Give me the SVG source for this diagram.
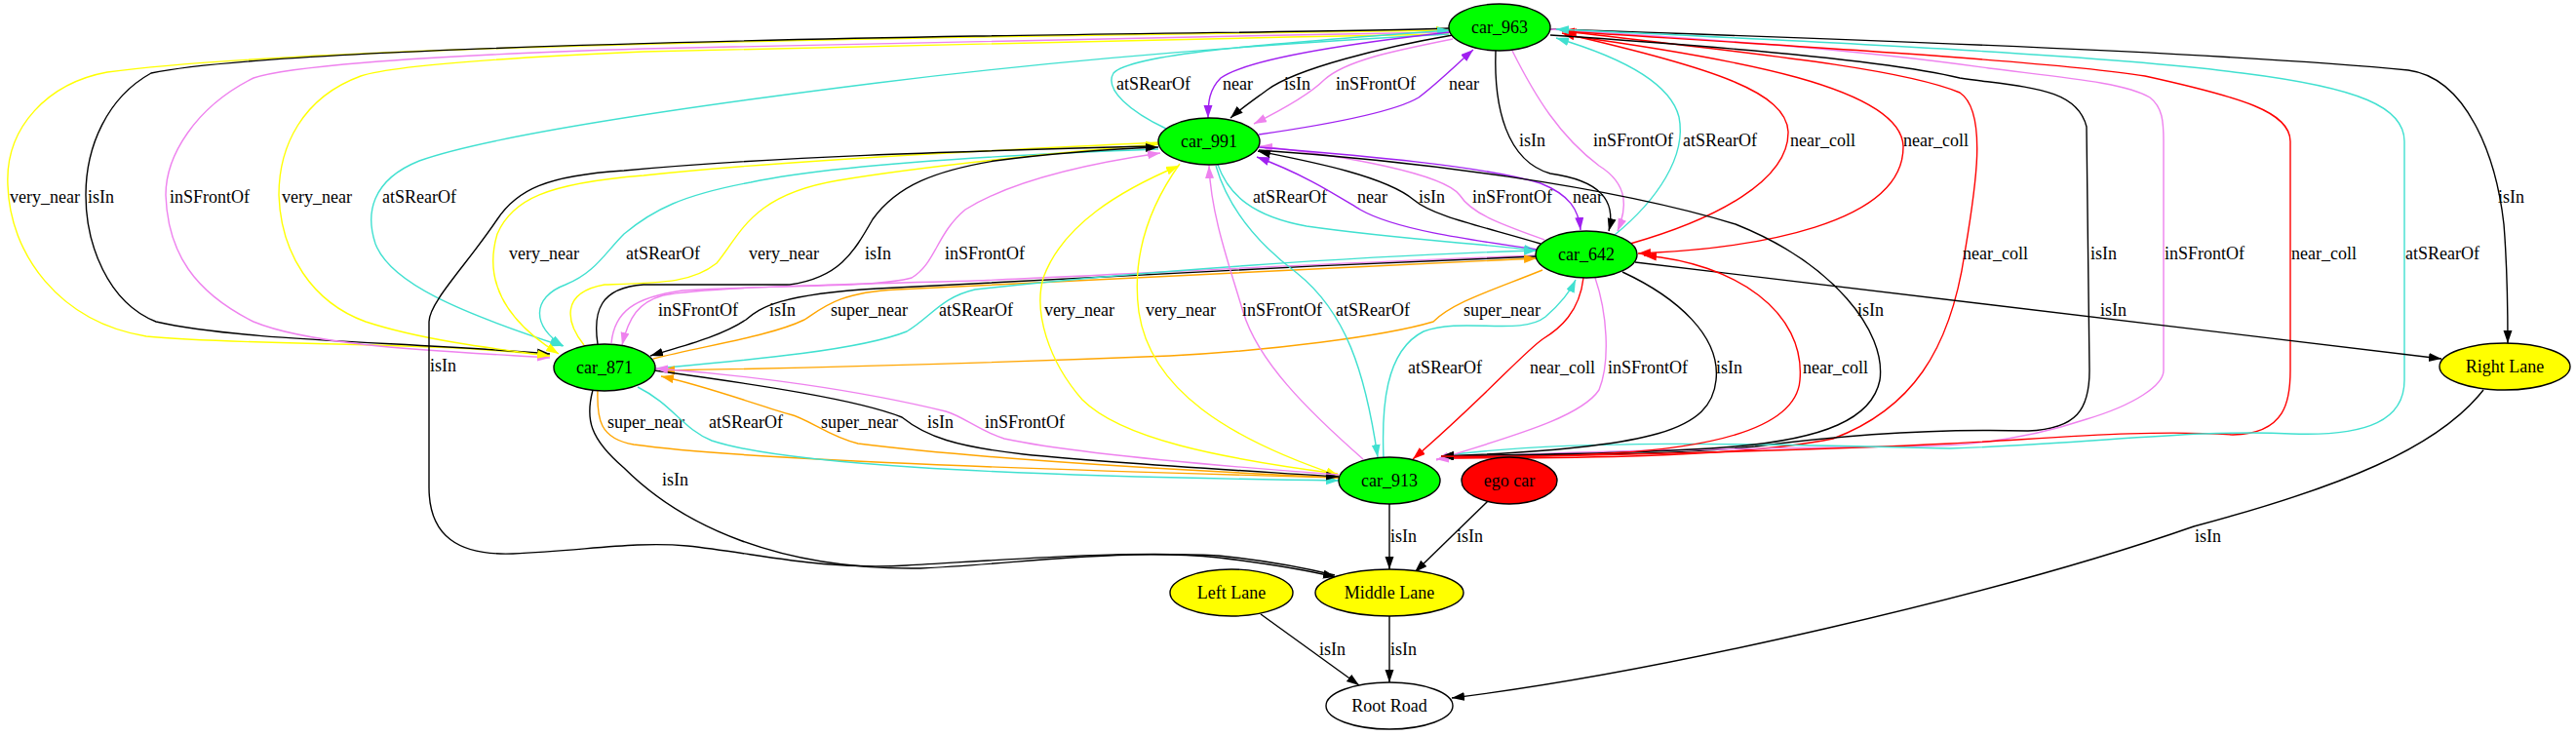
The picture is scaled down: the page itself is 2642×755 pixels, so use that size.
<svg xmlns="http://www.w3.org/2000/svg" width="2642" height="755" viewBox="0 0 2642 755">
<style>
.e{fill:none;stroke-width:1.4}
.k{stroke:#000}.p{stroke:#a020f0}.v{stroke:#ee82ee}.t{stroke:#40e0d0}.r{stroke:#ff0000}.o{stroke:#ffa500}.y{stroke:#ffff00}
text{font-family:"Liberation Serif","Times New Roman",serif;font-size:18px;fill:#000}
.n{text-anchor:middle}
.nd{stroke:#000;stroke-width:1.4}
</style>
<defs>
<marker id="mk" markerUnits="userSpaceOnUse" markerWidth="14" markerHeight="10" refX="13" refY="4.5" orient="auto"><path d="M0,0L13,4.5L0,9z" fill="#000"/></marker>
<marker id="mp" markerUnits="userSpaceOnUse" markerWidth="14" markerHeight="10" refX="13" refY="4.5" orient="auto"><path d="M0,0L13,4.5L0,9z" fill="#a020f0"/></marker>
<marker id="mv" markerUnits="userSpaceOnUse" markerWidth="14" markerHeight="10" refX="13" refY="4.5" orient="auto"><path d="M0,0L13,4.5L0,9z" fill="#ee82ee"/></marker>
<marker id="mt" markerUnits="userSpaceOnUse" markerWidth="14" markerHeight="10" refX="13" refY="4.5" orient="auto"><path d="M0,0L13,4.5L0,9z" fill="#40e0d0"/></marker>
<marker id="mr" markerUnits="userSpaceOnUse" markerWidth="14" markerHeight="10" refX="13" refY="4.5" orient="auto"><path d="M0,0L13,4.5L0,9z" fill="#ff0000"/></marker>
<marker id="mo" markerUnits="userSpaceOnUse" markerWidth="14" markerHeight="10" refX="13" refY="4.5" orient="auto"><path d="M0,0L13,4.5L0,9z" fill="#ffa500"/></marker>
<marker id="my" markerUnits="userSpaceOnUse" markerWidth="14" markerHeight="10" refX="13" refY="4.5" orient="auto"><path d="M0,0L13,4.5L0,9z" fill="#ffff00"/></marker>
</defs>
<rect width="2642" height="755" fill="#fff"/>
<g id="edges">
<!-- long loops car_963 / car_871 -->
<path class="e y" marker-end="url(#my)" d="M564,365 C450,350 250,355 150,345 C60,330 10,260 8,190 C5,130 50,85 110,74 C250,55 600,45 1000,38 C1200,35 1400,32 1486,31"/><text x="10" y="208">very_near</text>
<path class="e k" marker-end="url(#mk)" d="M1486,29 C1400,32 1200,34 1000,37 C600,44 250,55 155,75 C110,100 88,150 88,200 C88,250 110,310 160,330 C250,350 400,350 564,363"/><text x="90" y="208">isIn</text>
<path class="e v" marker-end="url(#mv)" d="M1486,33 C1200,38 900,44 660,50 C400,58 290,70 260,80 C200,110 170,160 170,200 C172,260 200,300 260,330 C320,355 450,360 564,367"/><text x="174" y="208">inSFrontOf</text>
<path class="e y" marker-end="url(#my)" d="M1486,35 C1200,40 900,47 660,53 C500,60 400,68 370,78 C310,100 286,150 286,200 C288,260 320,310 375,330 C430,348 500,357 564,365"/><text x="289" y="208">very_near</text>
<path class="e t" marker-end="url(#mt)" d="M1486,35 C1300,45 1100,60 900,85 C700,110 500,140 430,165 C380,185 375,220 385,250 C400,290 470,320 577,355"/><text x="392" y="208">atSRearOf</text>
<!-- car_963 / car_991 -->
<path class="e t" marker-end="url(#mt)" d="M1196,132 C1160,115 1132,92 1142,75 C1160,55 1300,45 1487,31"/><text x="1145" y="92">atSRearOf</text>
<path class="e p" marker-end="url(#mp)" d="M1487,33 C1380,45 1280,60 1252,80 C1240,92 1239,105 1239,121"/><text x="1254" y="92">near</text>
<path class="e k" marker-end="url(#mk)" d="M1490,36 C1420,48 1330,70 1300,92 C1285,103 1272,112 1262,121"/><text x="1317" y="92">isIn</text>
<path class="e v" marker-end="url(#mv)" d="M1490,40 C1430,52 1380,62 1358,82 C1345,95 1320,110 1286,127"/><text x="1370" y="92">inSFrontOf</text>
<path class="e p" marker-end="url(#mp)" d="M1291,138 C1360,128 1430,115 1455,100 C1475,85 1495,65 1511,51"/><text x="1486" y="92">near</text>
<!-- car_963 / car_642 -->
<path class="e k" marker-end="url(#mk)" d="M1534,52 C1532,110 1545,165 1590,178 C1640,185 1658,205 1650,237"/><text x="1558" y="150">isIn</text>
<path class="e v" marker-end="url(#mv)" d="M1551,52 C1575,100 1600,140 1640,170 C1672,190 1668,215 1659,237"/><text x="1634" y="150">inSFrontOf</text>
<path class="e t" marker-end="url(#mt)" d="M1656,241 C1700,205 1730,160 1722,120 C1712,80 1650,55 1596,39"/><text x="1726" y="150">atSRearOf</text>
<path class="e r" marker-end="url(#mr)" d="M1672,250 C1760,225 1835,185 1834,135 C1832,95 1760,70 1602,34"/><text x="1836" y="150">near_coll</text>
<path class="e r" marker-end="url(#mr)" d="M1605,36 C1780,60 1950,90 1952,150 C1953,230 1800,255 1680,260"/><text x="1952" y="150">near_coll</text>
<!-- car_991 / car_642 -->
<path class="e t" marker-end="url(#mt)" d="M1249,169 C1260,200 1285,222 1340,232 C1430,245 1520,250 1576,257"/><text x="1285" y="208">atSRearOf</text>
<path class="e p" marker-end="url(#mp)" d="M1577,256 C1500,245 1430,235 1395,215 C1370,200 1340,180 1289,161"/><text x="1392" y="208">near</text>
<path class="e k" marker-end="url(#mk)" d="M1580,250 C1520,232 1470,222 1450,205 C1420,180 1340,165 1290,155"/><text x="1455" y="208">isIn</text>
<path class="e v" marker-end="url(#mv)" d="M1584,246 C1540,230 1510,220 1497,200 C1480,178 1380,160 1292,150"/><text x="1510" y="208">inSFrontOf</text>
<path class="e p" marker-end="url(#mp)" d="M1291,151 C1400,160 1520,170 1580,188 C1610,200 1619,215 1621,236"/><text x="1613" y="208">near</text>
<!-- car_963 -> Right Lane -->
<path class="e k" marker-end="url(#mk)" d="M1590,30 C1900,40 2300,55 2470,72 C2530,80 2560,160 2568,230 C2572,280 2572,320 2572,352"/><text x="2562" y="208">isIn</text>
<!-- car_913 / car_963 right side -->
<path class="e r" marker-end="url(#mr)" d="M1478,470 C1600,470 1780,470 1880,450 C1960,420 2000,360 2015,260 C2025,200 2040,115 2010,95 C1950,70 1800,55 1604,32"/><text x="2013" y="266">near_coll</text>
<path class="e k" marker-end="url(#mk)" d="M1590,36 C1800,50 1950,65 2010,80 C2080,90 2130,90 2140,130 L2143,380 C2143,420 2130,440 2080,442 C2000,440 1900,445 1800,458 C1700,468 1600,466 1478,468"/><text x="2144" y="266">isIn</text>
<path class="e v" marker-end="url(#mv)" d="M1590,30 C1750,40 1900,50 2040,70 C2120,80 2180,85 2205,100 C2218,110 2219,125 2219,145 L2219,380 C2219,395 2190,415 2140,430 C2080,450 2020,458 1960,458 C1800,460 1600,462 1473,471"/><text x="2220" y="266">inSFrontOf</text>
<path class="e r" marker-end="url(#mr)" d="M1478,470 C1700,466 1900,460 2000,455 C2100,450 2200,440 2290,446 C2345,445 2349,410 2349,380 L2349,145 C2349,115 2300,100 2200,78 C2100,62 1800,45 1602,32"/><text x="2350" y="266">near_coll</text>
<path class="e t" marker-end="url(#mt)" d="M1478,468 C1600,450 1800,455 2000,460 C2150,455 2250,440 2350,445 C2430,448 2466,430 2466,390 L2466,145 C2466,110 2420,90 2300,75 C2150,55 1800,40 1596,30"/><text x="2467" y="266">atSRearOf</text>
<!-- car_642 -> Right Lane, Right Lane -> Root Road -->
<path class="e k" marker-end="url(#mk)" d="M1677,269 L2504,368"/><text x="2154" y="324">isIn</text>
<path class="e k" marker-end="url(#mk)" d="M2547,400 C2500,460 2400,500 2250,540 C2050,610 1700,690 1489,716"/><text x="2251" y="556">isIn</text>
<!-- car_991 -> car_913 isIn -->
<path class="e k" marker-end="url(#mk)" d="M1291,154 C1450,165 1650,190 1780,230 C1880,270 1935,340 1928,390 C1920,430 1870,450 1780,458 C1680,466 1560,466 1478,468"/><text x="1905" y="324">isIn</text>
<!-- car_913 / car_642 -->
<path class="e t" marker-end="url(#mt)" d="M1419,470 C1417,420 1420,360 1460,340 C1500,325 1560,345 1585,325 C1600,312 1610,300 1616,287"/><text x="1444" y="383">atSRearOf</text>
<path class="e r" marker-end="url(#mr)" d="M1624,285 C1620,320 1600,337 1582,348 C1562,362 1520,410 1449,471"/><text x="1569" y="383">near_coll</text>
<path class="e v" marker-end="url(#mv)" d="M1636,285 C1648,320 1652,370 1640,400 C1620,430 1540,450 1473,472"/><text x="1649" y="383">inSFrontOf</text>
<path class="e k" marker-end="url(#mk)" d="M1664,279 C1720,305 1765,345 1760,390 C1755,440 1700,460 1478,468"/><text x="1760" y="383">isIn</text>
<path class="e r" marker-end="url(#mr)" d="M1478,468 C1650,470 1840,465 1846,390 C1852,320 1780,270 1686,262"/><text x="1849" y="383">near_coll</text>
<!-- car_991 / car_871 -->
<path class="e y" marker-end="url(#my)" d="M1190,146 C1000,155 800,165 660,180 C560,188 525,205 510,240 C495,290 520,330 573,363"/><text x="522" y="266">very_near</text>
<path class="e t" marker-end="url(#mt)" d="M1188,153 C1000,160 850,170 770,187 C700,200 670,215 640,240 C620,260 610,280 580,292 C545,305 545,335 578,355"/><text x="642" y="266">atSRearOf</text>
<path class="e y" marker-end="url(#my)" d="M599,354 C580,330 575,300 620,292 C680,290 710,290 735,270 C760,240 770,200 860,185 C950,170 1100,155 1188,148"/><text x="768" y="266">very_near</text>
<path class="e k" marker-end="url(#mk)" d="M613,353 C608,320 615,295 660,292 L810,292 C860,285 875,260 895,225 C920,190 960,175 1020,165 C1080,157 1140,153 1188,151"/><text x="887" y="266">isIn</text>
<path class="e v" marker-end="url(#mv)" d="M627,352 C630,320 650,305 700,298 C800,292 900,295 935,285 C960,270 960,240 990,215 C1030,190 1100,170 1190,157"/><text x="969" y="266">inSFrontOf</text>
<!-- car_991 -> Middle Lane (far loop) -->
<path class="e k" d="M1178,150 C1000,155 800,160 640,175 C560,180 530,195 510,225 C480,270 440,310 440,330 L440,500 C440,550 470,570 526,568 C600,565 650,555 705,560 C780,568 840,585 930,580 C1050,573 1150,565 1250,570 C1300,575 1340,583 1369,590"/><text x="441" y="381">isIn</text>
<!-- car_642 / car_871 -->
<path class="e v" marker-end="url(#mv)" d="M1576,262 C1350,270 1150,282 1000,288 C850,292 720,295 680,303 C655,310 645,325 638,354"/><text x="675" y="324">inSFrontOf</text>
<path class="e k" marker-end="url(#mk)" d="M1576,263 C1350,272 1100,285 900,296 C800,302 780,315 765,328 C740,345 700,355 667,365"/><text x="789" y="324">isIn</text>
<path class="e o" marker-end="url(#mo)" d="M670,368 C720,355 790,345 825,328 C845,315 860,300 920,297 C1100,290 1350,275 1576,265"/><text x="852" y="324">super_near</text>
<path class="e t" marker-end="url(#mt)" d="M672,378 C760,370 880,360 930,340 C955,325 965,305 1000,297 C1150,280 1400,262 1576,257"/><text x="963" y="324">atSRearOf</text>
<path class="e o" marker-end="url(#mo)" d="M1582,277 C1530,298 1490,310 1470,330 C1420,345 1300,360 1200,365 C1000,373 800,378 679,380"/><text x="1501" y="324">super_near</text>
<!-- car_991 / car_913 -->
<path class="e y" marker-end="url(#my)" d="M1372,486 C1250,470 1150,450 1110,410 C1075,370 1060,320 1070,285 C1090,230 1150,195 1209,170"/><text x="1071" y="324">very_near</text>
<path class="e y" marker-end="url(#my)" d="M1210,168 C1180,210 1160,260 1168,320 C1180,400 1260,450 1373,488"/><text x="1175" y="324">very_near</text>
<path class="e v" marker-end="url(#mv)" d="M1398,471 C1340,420 1290,370 1275,320 C1260,270 1242,220 1240,170"/><text x="1274" y="324">inSFrontOf</text>
<path class="e t" marker-end="url(#mt)" d="M1247,170 C1260,215 1290,250 1330,280 C1380,320 1400,380 1413,469"/><text x="1370" y="324">atSRearOf</text>
<!-- car_871 / car_913 -->
<path class="e o" marker-end="url(#mo)" d="M613,400 C612,430 615,450 650,456 C750,470 1000,480 1373,490"/><text x="623" y="439">super_near</text>
<path class="e t" marker-end="url(#mt)" d="M654,397 C690,415 700,440 730,452 C800,475 1000,488 1373,493"/><text x="727" y="439">atSRearOf</text>
<path class="e o" marker-end="url(#mo)" d="M1373,490 C1200,482 1000,470 880,455 C850,448 830,430 810,425 C760,410 720,395 678,386"/><text x="842" y="439">super_near</text>
<path class="e k" marker-end="url(#mk)" d="M671,380 C780,395 880,410 925,428 C950,448 980,458 1050,466 C1150,476 1280,483 1373,489"/><text x="951" y="439">isIn</text>
<path class="e v" marker-end="url(#mv)" d="M1373,487 C1250,478 1100,465 1030,450 C1000,440 990,428 970,422 C880,400 770,385 672,378"/><text x="1010" y="439">inSFrontOf</text>
<!-- car_871 -> Middle Lane -->
<path class="e k" marker-end="url(#mk)" d="M608,400 C600,430 605,450 640,480 C700,540 800,585 944,583 C1050,578 1150,562 1250,572 C1300,578 1340,585 1370,592"/><text x="679" y="498">isIn</text>
<!-- lanes -->
<path class="e k" marker-end="url(#mk)" d="M1425,517 L1425,584"/><text x="1426" y="556">isIn</text>
<path class="e k" marker-end="url(#mk)" d="M1526,514 L1451,587"/><text x="1494" y="556">isIn</text>
<path class="e k" marker-end="url(#mk)" d="M1425,632 L1425,700"/><text x="1426" y="672">isIn</text>
<path class="e k" marker-end="url(#mk)" d="M1293,630 L1394,703"/><text x="1353" y="672">isIn</text>
</g>
<g id="node-car_963"><ellipse class="nd" cx="1538" cy="28" rx="52" ry="24" fill="#00ff00"/><text class="n" x="1538" y="34">car_963</text></g>
<g id="node-car_991"><ellipse class="nd" cx="1240" cy="145" rx="52" ry="24" fill="#00ff00"/><text class="n" x="1240" y="151">car_991</text></g>
<g id="node-car_642"><ellipse class="nd" cx="1627" cy="261" rx="52" ry="24" fill="#00ff00"/><text class="n" x="1627" y="267">car_642</text></g>
<g id="node-car_871"><ellipse class="nd" cx="620" cy="377" rx="52" ry="24" fill="#00ff00"/><text class="n" x="620" y="383">car_871</text></g>
<g id="node-car_913"><ellipse class="nd" cx="1425" cy="493" rx="52" ry="24" fill="#00ff00"/><text class="n" x="1425" y="499">car_913</text></g>
<g id="node-ego_car"><ellipse class="nd" cx="1548" cy="493" rx="49" ry="24" fill="#ff0000"/><text class="n" x="1548" y="499">ego car</text></g>
<g id="node-right_lane"><ellipse class="nd" cx="2569" cy="376" rx="67" ry="24" fill="#ffff00"/><text class="n" x="2569" y="382">Right Lane</text></g>
<g id="node-left_lane"><ellipse class="nd" cx="1263" cy="608" rx="63" ry="24" fill="#ffff00"/><text class="n" x="1263" y="614">Left Lane</text></g>
<g id="node-middle_lane"><ellipse class="nd" cx="1425" cy="608" rx="76" ry="24" fill="#ffff00"/><text class="n" x="1425" y="614">Middle Lane</text></g>
<g id="node-root_road"><ellipse class="nd" cx="1425" cy="724" rx="65" ry="24" fill="#ffffff"/><text class="n" x="1425" y="730">Root Road</text></g>
</svg>
